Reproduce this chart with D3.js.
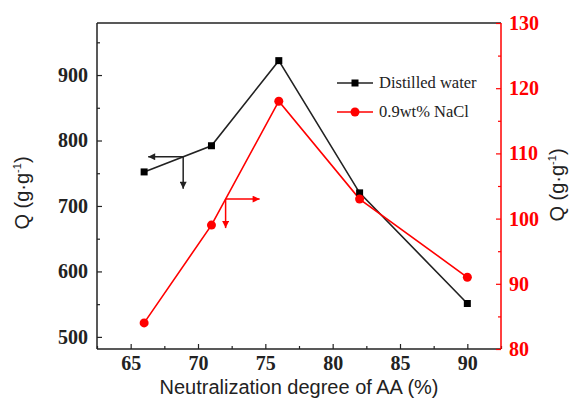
<!DOCTYPE html>
<html><head><meta charset="utf-8">
<script src="https://cdn.jsdelivr.net/npm/d3@7"></script>
<style>body{margin:0;background:#fff}svg{display:block}</style>
</head><body>
<script>
const degrees = [66, 71, 76, 82, 90];
const waterQ = [752, 792, 922, 720, 551];
const naclQ = [84, 99, 118, 103, 91];
const xTicks = [65, 70, 75, 80, 85, 90];
const yLeftTicks = [500, 600, 700, 800, 900];
const yRightTicks = [80, 90, 100, 110, 120, 130];
const seriesNames = ["Distilled water", "0.9wt% NaCl"];

const W = 575, H = 404;
const L = 97, R = 501, T = 23, B = 349;
const svg = d3.select("body").append("svg").attr("width", W).attr("height", H);

const x = d3.scaleLinear().domain([62.5, 92.5]).range([L, R]);
const yL = d3.scaleLinear().domain([481.5, 979.5]).range([B, T]);
const yR = d3.scaleLinear().domain([80, 130]).range([B, T]);

const tickFont = "Liberation Serif, Times New Roman, serif";
const sans = "Liberation Sans, Arial, sans-serif";

function styleTicks(g, color) {
  g.selectAll("text").attr("font-family", tickFont).attr("font-weight", "bold").attr("font-size", 20).attr("fill", color);
}

// frame top
svg.append("line").attr("x1", L).attr("x2", R).attr("y1", T).attr("y2", T).attr("stroke", "#222").attr("stroke-width", 1.5);

// bottom axis
const gx = svg.append("g").attr("transform", `translate(0,${B})`);
gx.call(d3.axisBottom(x).tickValues(xTicks).tickSize(-5).tickPadding(7).tickFormat(d3.format("d")));
const gxm = gx.append("g").call(d3.axisBottom(x).tickValues(d3.range(62.5, 92.6, 5)).tickSize(-3).tickFormat(""));
gxm.select(".domain").remove();
gx.select(".domain").attr("d", `M${L},0H${R}`).attr("stroke", "#222").attr("stroke-width", 1.5);
gx.selectAll(".tick line").attr("stroke", "#222").attr("stroke-width", 1.2);
styleTicks(gx, "#222");

// left axis
const gl = svg.append("g").attr("transform", `translate(${L},0)`);
gl.call(d3.axisLeft(yL).tickValues(yLeftTicks).tickSize(-5).tickPadding(9).tickFormat(d3.format("d")));
const glm = gl.append("g").call(d3.axisLeft(yL).tickValues(d3.range(550, 980, 100)).tickSize(-3).tickFormat(""));
glm.select(".domain").remove();
gl.select(".domain").attr("d", `M0,${T}V${B}`).attr("stroke", "#222").attr("stroke-width", 1.5);
gl.selectAll(".tick line").attr("stroke", "#222").attr("stroke-width", 1.2);
styleTicks(gl, "#222");

// right axis
const gr = svg.append("g").attr("transform", `translate(${R},0)`);
gr.call(d3.axisRight(yR).tickValues(yRightTicks).tickSize(-5).tickPadding(8).tickFormat(d3.format("d")));
const grm = gr.append("g").call(d3.axisRight(yR).tickValues(d3.range(85, 130, 10)).tickSize(-3).tickFormat(""));
grm.select(".domain").remove();
gr.select(".domain").attr("d", `M0,${T}V${B}`).attr("stroke", "#f00").attr("stroke-width", 1.5);
gr.selectAll(".tick line").attr("stroke", "#f00").attr("stroke-width", 1.2);
styleTicks(gr, "#f00");

// titles
svg.append("text").attr("x", 299).attr("y", 394).attr("text-anchor", "middle")
  .attr("font-family", sans).attr("font-size", 20).attr("fill", "#222").text("Neutralization degree of AA (%)");

function yTitle(cx, cy) {
  const t = svg.append("text").attr("transform", `translate(${cx},${cy}) rotate(-90)`)
    .attr("text-anchor", "middle").attr("font-family", sans).attr("font-size", 20).attr("fill", "#222");
  t.append("tspan").text("Q (g·g");
  t.append("tspan").attr("dy", -8).attr("font-size", 11).text("-1");
  t.append("tspan").attr("dy", 8).text(")");
}
yTitle(29, 193);
yTitle(564, 185);

// lines
const lineW = d3.line().x((d, i) => x(degrees[i])).y(d => yL(d));
const lineN = d3.line().x((d, i) => x(degrees[i])).y(d => yR(d));
svg.append("path").attr("d", lineW(waterQ)).attr("fill", "none").attr("stroke", "#222").attr("stroke-width", 1.6);
svg.append("path").attr("d", lineN(naclQ)).attr("fill", "none").attr("stroke", "#f00").attr("stroke-width", 1.6);
svg.selectAll("rect.pt").data(waterQ).join("rect").attr("class", "pt")
  .attr("x", (d, i) => x(degrees[i]) - 3.5).attr("y", d => yL(d) - 3.5).attr("width", 7).attr("height", 7).attr("fill", "#000");
svg.selectAll("circle.pt").data(naclQ).join("circle").attr("class", "pt")
  .attr("cx", (d, i) => x(degrees[i])).attr("cy", d => yR(d)).attr("r", 4.5).attr("fill", "#f00");

// arrow markers
const defs = svg.append("defs");
[["ab", "#222"], ["ar", "#f00"]].forEach(([id, c]) => {
  defs.append("marker").attr("id", id).attr("viewBox", "0 0 10 10").attr("refX", 10).attr("refY", 5)
    .attr("markerWidth", 9).attr("markerHeight", 7).attr("markerUnits", "userSpaceOnUse").attr("orient", "auto")
    .append("path").attr("d", "M0,0L10,5L0,10Z").attr("fill", c);
});
// black annotation: junction on the water line
const jbX = 68.9;
const jbY = yL(waterQ[0] + (waterQ[1] - waterQ[0]) * (jbX - degrees[0]) / (degrees[1] - degrees[0]));
svg.append("line").attr("x1", x(jbX)).attr("y1", jbY).attr("x2", x(jbX) - 35).attr("y2", jbY)
  .attr("stroke", "#222").attr("stroke-width", 1.5).attr("marker-end", "url(#ab)");
svg.append("line").attr("x1", x(jbX)).attr("y1", jbY).attr("x2", x(jbX)).attr("y2", jbY + 32)
  .attr("stroke", "#222").attr("stroke-width", 1.5).attr("marker-end", "url(#ab)");
// red annotation
const jrX = 72.05;
const jrY = yR(naclQ[1] + (naclQ[2] - naclQ[1]) * (jrX - degrees[1]) / (degrees[2] - degrees[1]));
svg.append("line").attr("x1", x(jrX)).attr("y1", jrY).attr("x2", x(jrX) + 34).attr("y2", jrY)
  .attr("stroke", "#f00").attr("stroke-width", 1.5).attr("marker-end", "url(#ar)");
svg.append("line").attr("x1", x(jrX)).attr("y1", jrY).attr("x2", x(jrX)).attr("y2", jrY + 29)
  .attr("stroke", "#f00").attr("stroke-width", 1.5).attr("marker-end", "url(#ar)");

// legend
const leg = svg.append("g");
const legColors = ["#222", "#f00"];
seriesNames.forEach((name, i) => {
  const ly = 83 + i * 29;
  leg.append("line").attr("x1", 337).attr("x2", 373).attr("y1", ly).attr("y2", ly).attr("stroke", legColors[i]).attr("stroke-width", 1.6);
  if (i === 0) leg.append("rect").attr("x", 351.5).attr("y", ly - 3.5).attr("width", 7).attr("height", 7).attr("fill", "#000");
  else leg.append("circle").attr("cx", 355).attr("cy", ly).attr("r", 4.5).attr("fill", "#f00");
  leg.append("text").attr("x", 379).attr("y", ly + 5).attr("font-family", tickFont).attr("font-size", 16.5).attr("fill", "#222").text(name);
});
</script>
</body></html>
